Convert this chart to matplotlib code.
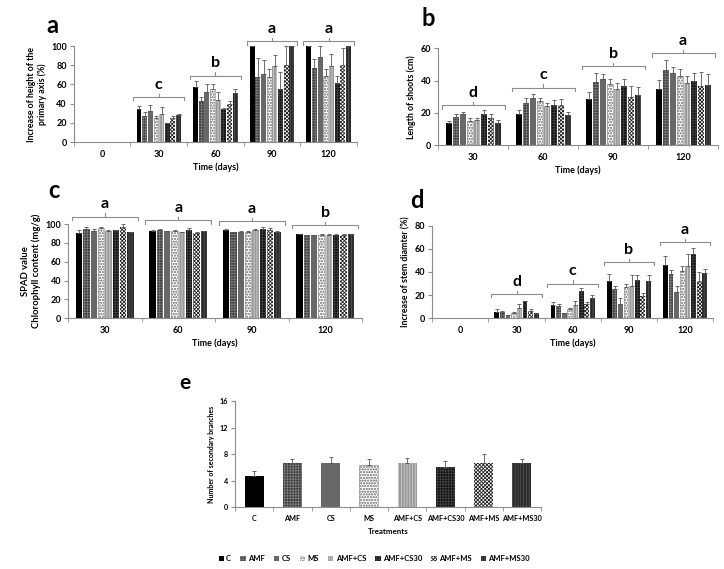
import matplotlib
matplotlib.use('Agg')
import matplotlib.pyplot as plt
import numpy as np

plt.rcParams['font.family'] = ['Lato', 'DejaVu Sans']
plt.rcParams['font.weight'] = 'bold'
plt.rcParams['hatch.linewidth'] = 0.6

treatments = ['C', 'AMF', 'CS', 'MS', 'AMF+CS', 'AMF+CS30', 'AMF+MS', 'AMF+MS30']

# (a) increase of height of the primary axis (%)
days_a = ['0', '30', '60', '90', '120']
height_mean = [[0, 0, 0, 0, 0, 0, 0, 0],
               [34, 27, 32, 25, 29, 20, 25, 28],
               [57, 43, 52, 55, 44, 34, 40, 51],
               [100, 68, 71, 68, 79, 55, 80, 100],
               [100, 77, 89, 69, 79, 61, 80, 100]]
height_err = [[0, 0, 0, 0, 0, 0, 0, 0],
              [4, 4, 7, 2, 7, 0, 2, 1],
              [7, 4, 8, 5, 8, 1, 3, 4],
              [0, 20, 14, 8, 12, 18, 20, 0],
              [0, 9, 11, 7, 13, 8, 18, 0]]
height_letters = ['', 'c', 'b', 'a', 'a']
height_brackets = [None, 47, 69, 105, 105]

# (b) length of shoots (cm)
days_b = ['30', '60', '90', '120']
shoot_mean = [[13.5, 17.5, 19, 15, 15.5, 19, 16.5, 14],
              [19.5, 26, 29, 27.5, 24, 25, 25, 18.5],
              [28.5, 39, 41, 38, 35, 36.5, 30, 31],
              [35, 46.5, 45, 43, 38.5, 40, 36.5, 37]]
shoot_err = [[1.5, 2, 1.5, 2, 1, 2.5, 2.5, 1.5],
             [2.5, 3, 2.5, 2, 2, 3, 3.5, 2],
             [4.5, 6, 3, 3, 3.5, 4.5, 6.5, 5],
             [5.5, 6, 3.5, 4.5, 4.5, 4.5, 9, 7]]
shoot_letters = ['d', 'c', 'b', 'a']
shoot_brackets = [24.6, 35.5, 49, 57]

# (c) SPAD value
days_c = ['30', '60', '90', '120']
spad_mean = [[91, 94.5, 93, 95.5, 93, 93.5, 97.5, 91.5],
             [92.5, 93.5, 92.5, 92.5, 91.5, 94, 91, 92.5],
             [93.5, 91.5, 92, 92, 93.5, 94.5, 93.5, 92],
             [89.5, 88.5, 88.5, 89, 89, 89, 89, 89.5]]
spad_err = [[3, 2, 1.5, 1, 1, 0.5, 3, 0.5],
            [1, 1.5, 0.5, 1, 0.5, 1.5, 0.5, 0.5],
            [1, 0.5, 1, 0.5, 1, 3, 2, 0.5],
            [0.5, 0.5, 0.3, 0.3, 0.5, 0.5, 0.3, 0.5]]
spad_letters = ['a', 'a', 'a', 'b']
spad_brackets = [108, 104, 103, 99]

# (d) increase of stem diameter (%)
days_d = ['0', '30', '60', '90', '120']
diam_mean = [[0, 0, 0, 0, 0, 0, 0, 0],
             [5.5, 5, 2.5, 4.5, 8.5, 15, 6, 4.5],
             [11, 10.5, 4, 8, 11, 23.5, 12.5, 17],
             [32, 25.5, 12.5, 27, 28, 33, 19.5, 32],
             [46, 38, 23, 40.5, 45, 56, 32, 39]]
diam_err = [[0, 0, 0, 0, 0, 0, 0, 0],
            [2, 1.5, 0.5, 1, 3.5, 0, 1.5, 0],
            [3, 1.5, 0, 0.5, 4, 2.5, 1.5, 3],
            [6, 2, 5, 3, 9, 4, 2.5, 5],
            [8, 4, 5, 4.5, 11, 5, 8, 4]]
diam_letters = ['', 'd', 'c', 'b', 'a']
diam_brackets = [None, 21, 30, 48.5, 66]

# (e) number of secondary branches
branch_mean = [4.7, 6.7, 6.6, 6.4, 6.7, 6.1, 6.7, 6.6]
branch_err = [0.7, 0.6, 0.9, 0.8, 0.7, 0.8, 1.3, 0.7]

# face, hatch, hatch colour for each treatment
STYLES = [
    ('#000000', None, '#000000'),
    ('#3c3c3c', '++++++', '#7a7a7a'),
    ('#686868', None, '#686868'),
    ('#ffffff', 'oooooo', '#9a9a9a'),
    ('#9a9a9a', '||||||', '#cfcfcf'),
    ('#111111', '++++++', '#404040'),
    ('#ffffff', 'xxxxxxxxx', '#222222'),
    ('#2a2a2a', '||||||', '#555555'),
]
AXCOL = '#8c8c8c'


def style_axes(ax, n, labels, ymax, ystep, fs=6.5):
    ax.set_xlim(-0.5, n - 0.5)
    ax.set_ylim(0, ymax)
    ax.set_yticks(np.arange(0, ymax + 0.1, ystep))
    ax.set_xticks(np.arange(n))
    ax.set_xticklabels(labels)
    ax.set_xticks(np.arange(n + 1) - 0.5, minor=True)
    ax.tick_params(axis='x', which='major', length=0, labelsize=fs, pad=6)
    ax.tick_params(axis='x', which='minor', length=3, color=AXCOL)
    ax.tick_params(axis='y', length=3, color=AXCOL, labelsize=fs, pad=2)
    for s in ['top', 'right']:
        ax.spines[s].set_visible(False)
    for s in ['left', 'bottom']:
        ax.spines[s].set_color(AXCOL)
        ax.spines[s].set_linewidth(0.8)


def draw_bar(ax, x, y, w, j):
    face, hatch, hcol = STYLES[j]
    ax.bar(x, y, w, color=face, hatch=hatch, edgecolor=hcol, linewidth=0,
           label=treatments[j])
    if j == 3:
        ax.bar(x, y, w, color='none', edgecolor='#9a9a9a', linewidth=0.5)


def grouped(ax, means, errs):
    n = len(means)
    for j in range(8):
        xs = np.arange(n) - 0.35 + j * 0.1
        ys = [m[j] for m in means]
        es = [e[j] for e in errs]
        draw_bar(ax, xs, ys, 0.086, j)
        ax.errorbar(xs, ys, yerr=[np.zeros(n), es], fmt='none',
                    ecolor='#555555', elinewidth=0.6, capsize=1.3,
                    capthick=0.6)


def brackets(ax, ys, letters, ymax, fs=11.5):
    h = ymax * 0.035
    for k, (y, t) in enumerate(zip(ys, letters)):
        if y is None:
            continue
        x0, x1 = k - 0.45, k + 0.45
        ax.plot([x0, x0, x1, x1], [y - h, y, y, y - h], color=AXCOL,
                lw=0.8, clip_on=False)
        ax.plot([k, k], [y, y + h], color=AXCOL, lw=0.8, clip_on=False)
        ax.text(k, y + h * 1.6, t, ha='center', va='bottom', fontsize=fs,
                fontweight='bold', clip_on=False)


fig = plt.figure(figsize=(7.24, 5.69), dpi=100)

ax_a = fig.add_axes([0.102, 0.7504, 0.391, 0.1687])
grouped(ax_a, height_mean, height_err)
style_axes(ax_a, 5, days_a, 100, 20)
brackets(ax_a, height_brackets, height_letters, 100)
ax_a.set_xlabel('Time (days)', fontsize=6.5, fontweight='bold', labelpad=2)
ax_a.set_ylabel('Increase of height of the\nprimary axis (%)', fontsize=6.3,
                fontweight='bold', labelpad=3)
fig.text(0.064, 0.955, 'a', fontsize=17, fontweight='bold', ha='left', va='center')

ax_b = fig.add_axes([0.605, 0.745, 0.387, 0.170])
grouped(ax_b, shoot_mean, shoot_err)
style_axes(ax_b, 4, days_b, 60, 20)
brackets(ax_b, shoot_brackets, shoot_letters, 60)
ax_b.set_xlabel('Time (days)', fontsize=6.5, fontweight='bold', labelpad=2)
ax_b.set_ylabel('Length of shoots (cm)', fontsize=6.3, fontweight='bold', labelpad=3)
fig.text(0.582, 0.968, 'b', fontsize=17, fontweight='bold', ha='left', va='center')

ax_c = fig.add_axes([0.094, 0.441, 0.406, 0.165])
grouped(ax_c, spad_mean, spad_err)
style_axes(ax_c, 4, days_c, 100, 20)
brackets(ax_c, spad_brackets, spad_letters, 100)
ax_c.set_xlabel('Time (days)', fontsize=6.5, fontweight='bold', labelpad=2)
ax_c.set_ylabel('SPAD value\nChlorophyll content (mg/g)', fontsize=6.8,
                fontweight='bold', labelpad=3)
fig.text(0.066, 0.665, 'c', fontsize=17, fontweight='bold', ha='left', va='center')

ax_d = fig.add_axes([0.597, 0.441, 0.388, 0.162])
grouped(ax_d, diam_mean, diam_err)
style_axes(ax_d, 5, days_d, 80, 20)
brackets(ax_d, diam_brackets, diam_letters, 80)
ax_d.set_xlabel('Time (days)', fontsize=6.5, fontweight='bold', labelpad=2)
ax_d.set_ylabel('Increase of stem diamter (%)', fontsize=6.3, fontweight='bold',
                labelpad=3)
fig.text(0.566, 0.648, 'd', fontsize=17, fontweight='bold', ha='left', va='center')

ax_e = fig.add_axes([0.3246, 0.109, 0.4227, 0.186])
xs = np.arange(8)
for j in range(8):
    draw_bar(ax_e, xs[j], branch_mean[j], 0.5, j)
ax_e.errorbar(xs, branch_mean, yerr=[np.zeros(8), branch_err], fmt='none',
              ecolor='#555555', elinewidth=0.6, capsize=1.3, capthick=0.6)
style_axes(ax_e, 8, treatments, 16, 4, fs=5.2)
ax_e.set_xlabel('Treatments', fontsize=5.7, fontweight='bold', labelpad=4)
ax_e.set_ylabel('Number of secondary branches', fontsize=5, fontweight='bold',
                labelpad=3)
fig.text(0.248, 0.327, 'e', fontsize=15, fontweight='bold', ha='left', va='center')

handles, labels = ax_c.get_legend_handles_labels()
fig.legend(handles[:8], labels[:8], loc='center', bbox_to_anchor=(0.517, 0.018),
           ncol=8, frameon=False, fontsize=5.5, handlelength=0.7,
           handleheight=0.7, handletextpad=0.3, columnspacing=1.2)

fig.savefig('out.png', dpi=100)
